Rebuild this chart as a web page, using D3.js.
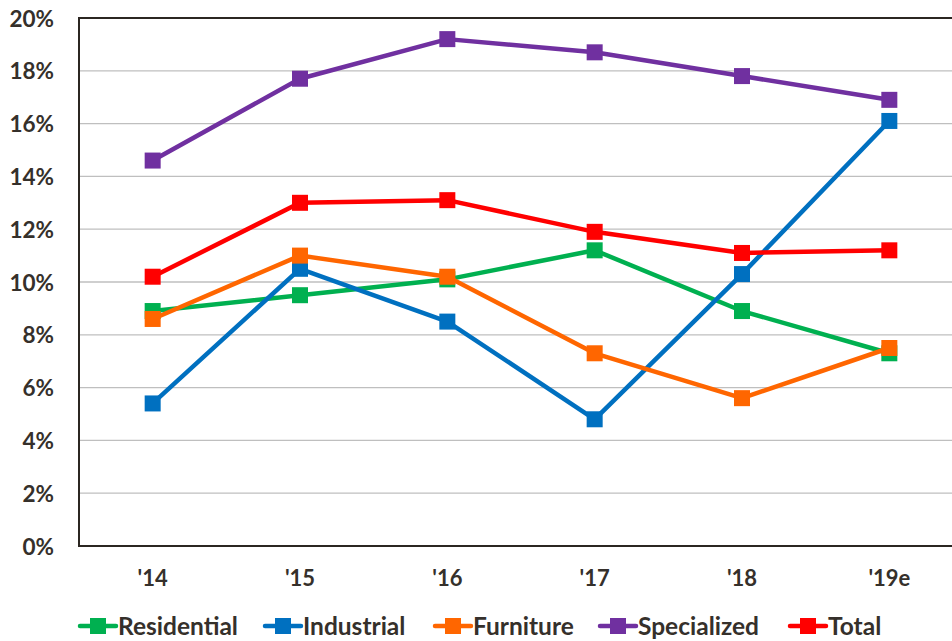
<!DOCTYPE html>
<html>
<head>
<meta charset="utf-8">
<script src="https://cdn.jsdelivr.net/npm/d3@7"></script>
<style>
  html, body { margin: 0; padding: 0; background: #fff; }
  svg { display: block; font-family: Lato, "Open Sans", sans-serif; }
</style>
</head>
<body>
<svg id="chart" width="952" height="641"></svg>
<script>
// Category labels along the x axis
const years = ["'14", "'15", "'16", "'17", "'18", "'19e"];
// Y axis ticks (percent)
const yTicks = [0, 2, 4, 6, 8, 10, 12, 14, 16, 18, 20];

// Growth rates by segment, in percent
const residential = [8.9, 9.5, 10.1, 11.2, 8.9, 7.3];
const industrial  = [5.4, 10.5, 8.5, 4.8, 10.3, 16.1];
const furniture   = [8.6, 11.0, 10.2, 7.3, 5.6, 7.5];
const specialized = [14.6, 17.7, 19.2, 18.7, 17.8, 16.9];
const total       = [10.2, 13.0, 13.1, 11.9, 11.1, 11.2];

const seriesNames  = ["Residential", "Industrial", "Furniture", "Specialized", "Total"];
const seriesColors = ["#00B050", "#0070C0", "#FF6600", "#7030A0", "#FF0000"];
const seriesValues = [residential, industrial, furniture, specialized, total];

const series = seriesNames.map((name, i) => ({
  name, color: seriesColors[i], values: seriesValues[i]
}));

const svg = d3.select("#chart");
const textColor = "#35302b";

const plot = { left: 79, top: 18, right: 963, bottom: 546 };

const x = d3.scaleBand().domain(years).range([plot.left, plot.right]);
const y = d3.scaleLinear().domain([0, 20]).range([plot.bottom, plot.top]);
const cx = d => x(d) + x.bandwidth() / 2;

// Horizontal gridlines
svg.append("g")
  .selectAll("line")
  .data(yTicks.filter(t => t > 0 && t < 20))
  .join("line")
  .attr("x1", plot.left).attr("x2", plot.right)
  .attr("y1", d => y(d)).attr("y2", d => y(d))
  .attr("stroke", "#bfbfbf").attr("stroke-width", 1.3);

// Frame: top, left, bottom
svg.append("path")
  .attr("d", `M${plot.right},${plot.top}H${plot.left}V${plot.bottom}H${plot.right}`)
  .attr("fill", "none").attr("stroke", "#2b2621").attr("stroke-width", 2);

// Y axis labels
const yAxis = d3.axisLeft(y).tickValues(yTicks).tickFormat(d => d + "%").tickSize(0).tickPadding(0);
const yg = svg.append("g").attr("transform", `translate(54,0)`).call(yAxis);
yg.select(".domain").remove();
yg.selectAll("text")
  .attr("fill", textColor).attr("font-size", 22.5).attr("font-weight", "bold")
  .attr("font-family", "Lato, sans-serif").attr("dy", "0.36em");

// X axis labels
const xAxis = d3.axisBottom(x).tickSize(0).tickPadding(0);
const xg = svg.append("g").attr("transform", `translate(0,569)`).call(xAxis);
xg.select(".domain").remove();
xg.selectAll("text")
  .attr("fill", textColor).attr("font-size", 22).attr("font-weight", "bold")
  .attr("font-family", "Lato, sans-serif").attr("dy", "0.75em");

// Lines and markers
const line = d3.line().x((d, i) => cx(years[i])).y(d => y(d));
const ms = 16;

const sg = svg.append("g").selectAll("g").data(series).join("g");
sg.append("path")
  .attr("d", d => line(d.values))
  .attr("fill", "none").attr("stroke", d => d.color)
  .attr("stroke-width", 4.5).attr("stroke-linejoin", "round");
sg.selectAll("rect")
  .data(d => d.values.map((v, i) => ({ v, i, color: d.color })))
  .join("rect")
  .attr("x", d => cx(years[d.i]) - ms / 2)
  .attr("y", d => y(d.v) - ms / 2)
  .attr("width", ms).attr("height", ms)
  .attr("fill", d => d.color);

// Legend
const legendX = [80, 265, 435, 600, 790];
const legendY = 626;
const lg = svg.append("g").selectAll("g").data(series).join("g")
  .attr("transform", (d, i) => `translate(${legendX[i]},${legendY})`);
lg.append("line")
  .attr("x1", 0).attr("x2", 36).attr("y1", 0).attr("y2", 0)
  .attr("stroke", d => d.color).attr("stroke-width", 4.5).attr("stroke-linecap", "round");
lg.append("rect")
  .attr("x", 10).attr("y", -8).attr("width", 16).attr("height", 16)
  .attr("fill", d => d.color);
lg.append("text")
  .attr("x", 38).attr("y", 0).attr("dy", "0.36em")
  .attr("fill", textColor).attr("font-size", 24.5).attr("font-weight", "bold")
  .text(d => d.name);
</script>
</body>
</html>
